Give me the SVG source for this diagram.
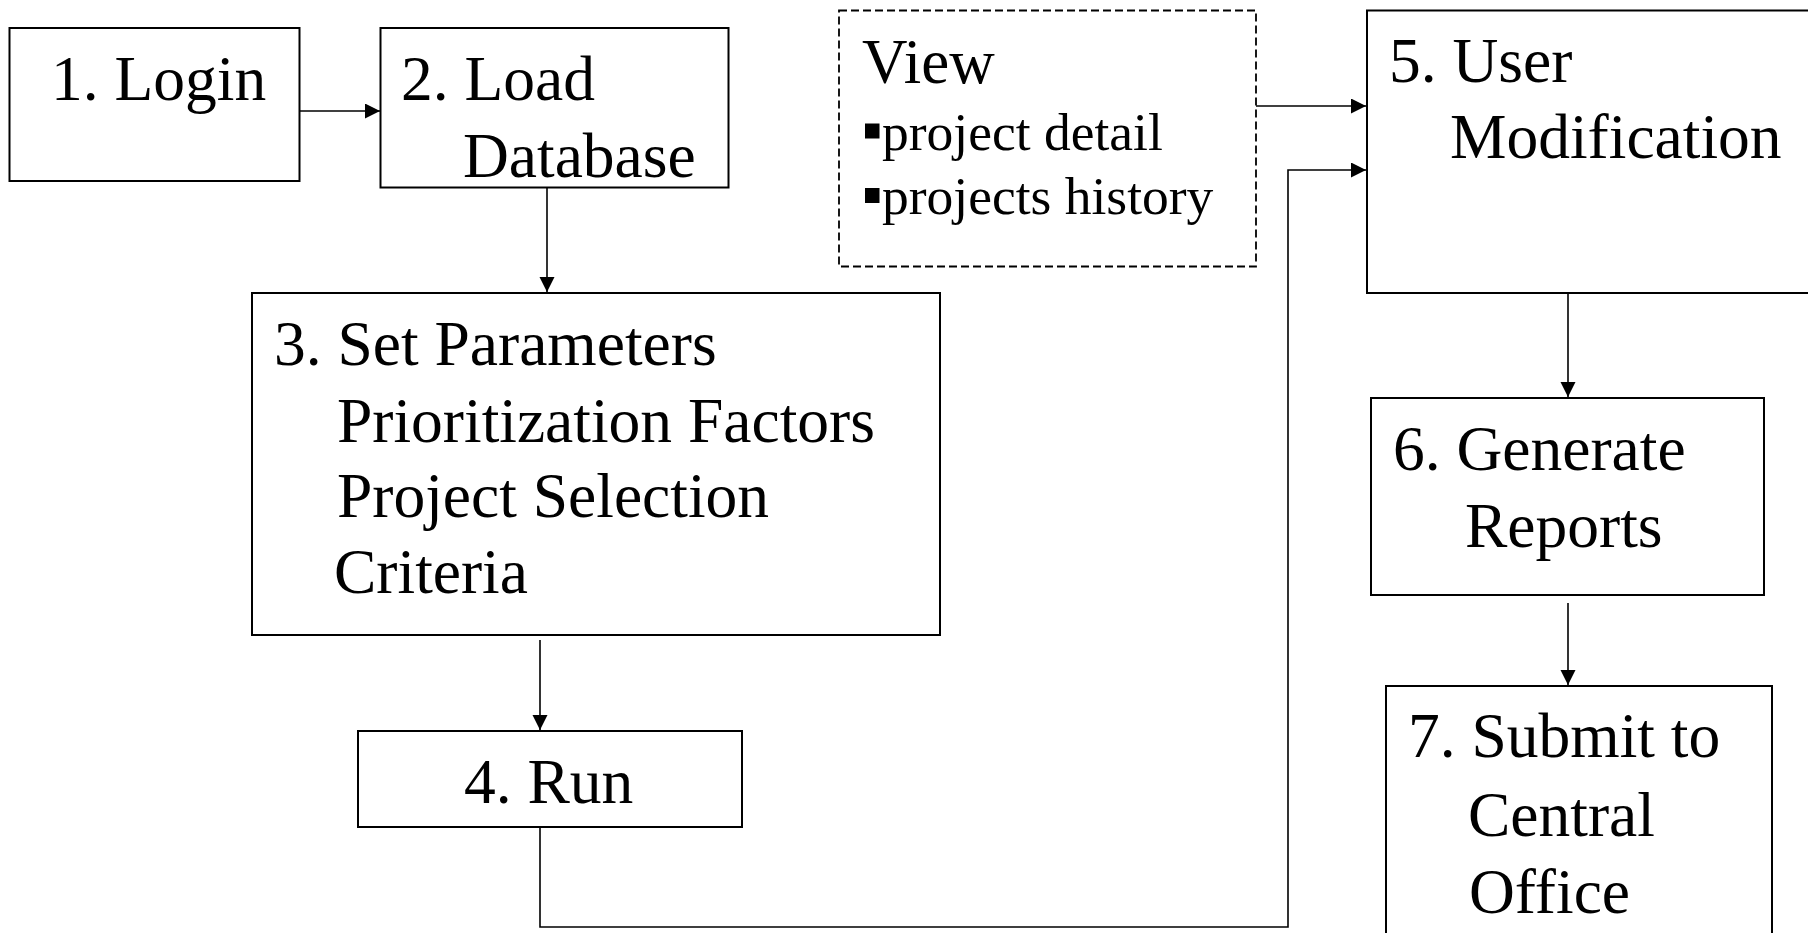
<svg xmlns="http://www.w3.org/2000/svg" width="1808" height="933" viewBox="0 0 1808 933">
<style>
.box{fill:#fff;stroke:#000;stroke-width:2}
.dash{fill:#fff;stroke:#000;stroke-width:1.8;stroke-dasharray:8 4}
.t{font-family:"Liberation Serif","Times New Roman",serif;font-size:63.5px;fill:#000}
.v{font-family:"Liberation Serif","Times New Roman",serif;font-size:63px;fill:#000}
.b{font-family:"Liberation Serif","Times New Roman",serif;font-size:53.5px;fill:#000}
.c{fill:none;stroke:#000;stroke-width:1.6}
</style>
<defs>
<marker id="ah" markerUnits="userSpaceOnUse" markerWidth="16" markerHeight="16" refX="15" refY="7.5" orient="auto">
<path d="M0,0 L15,7.5 L0,15 z" fill="#000"/>
</marker>
</defs>
<rect width="1808" height="933" fill="#fff"/>
<g id="connectors">
<path class="c" d="M299.5,111 H380" marker-end="url(#ah)"/>
<path class="c" d="M547,187.5 V292" marker-end="url(#ah)"/>
<path class="c" d="M540,640 V730" marker-end="url(#ah)"/>
<path class="c" d="M540,827 V927 H1288 V170 H1366" marker-end="url(#ah)"/>
<path class="c" d="M1256,106 H1366" marker-end="url(#ah)"/>
<path class="c" d="M1568,293 V397" marker-end="url(#ah)"/>
<path class="c" d="M1568,603 V685" marker-end="url(#ah)"/>
</g>
<g id="n1">
<rect class="box" x="9.5" y="28" width="290" height="153"/>
<text class="t" x="51" y="100">1. Login</text>
</g>
<g id="n2">
<rect class="box" x="380.5" y="28" width="348" height="159.5"/>
<text class="t" x="401" y="100">2. Load</text>
<text class="t" x="463" y="177">Database</text>
</g>
<g id="n3">
<rect class="box" x="252" y="293" width="688" height="342"/>
<text class="t" x="274" y="365">3. Set Parameters</text>
<text class="t" x="337" y="442">Prioritization Factors</text>
<text class="t" x="337" y="517">Project Selection</text>
<text class="t" x="334" y="593">Criteria</text>
</g>
<g id="n4">
<rect class="box" x="358" y="731" width="384" height="96"/>
<text class="t" x="464" y="803">4. Run</text>
</g>
<g id="view">
<rect class="dash" x="839" y="10.5" width="417" height="256"/>
<text class="v" x="862" y="83">View</text>
<rect x="865" y="123.5" width="14.5" height="15" fill="#000"/>
<text class="b" x="882" y="150">project detail</text>
<rect x="865" y="188" width="14.5" height="15" fill="#000"/>
<text class="b" x="882" y="214">projects history</text>
</g>
<g id="n5">
<rect class="box" x="1367" y="10.5" width="460" height="282.5"/>
<text class="t" x="1389" y="82">5. User</text>
<text class="t" x="1450" y="158">Modification</text>
</g>
<g id="n6">
<rect class="box" x="1371" y="398" width="393" height="197"/>
<text class="t" x="1393" y="470">6. Generate</text>
<text class="t" x="1465" y="547">Reports</text>
</g>
<g id="n7">
<rect class="box" x="1386" y="686" width="386" height="270"/>
<text class="t" x="1408" y="757">7. Submit to</text>
<text class="t" x="1468" y="836">Central</text>
<text class="t" x="1469" y="913">Office</text>
</g>
</svg>
